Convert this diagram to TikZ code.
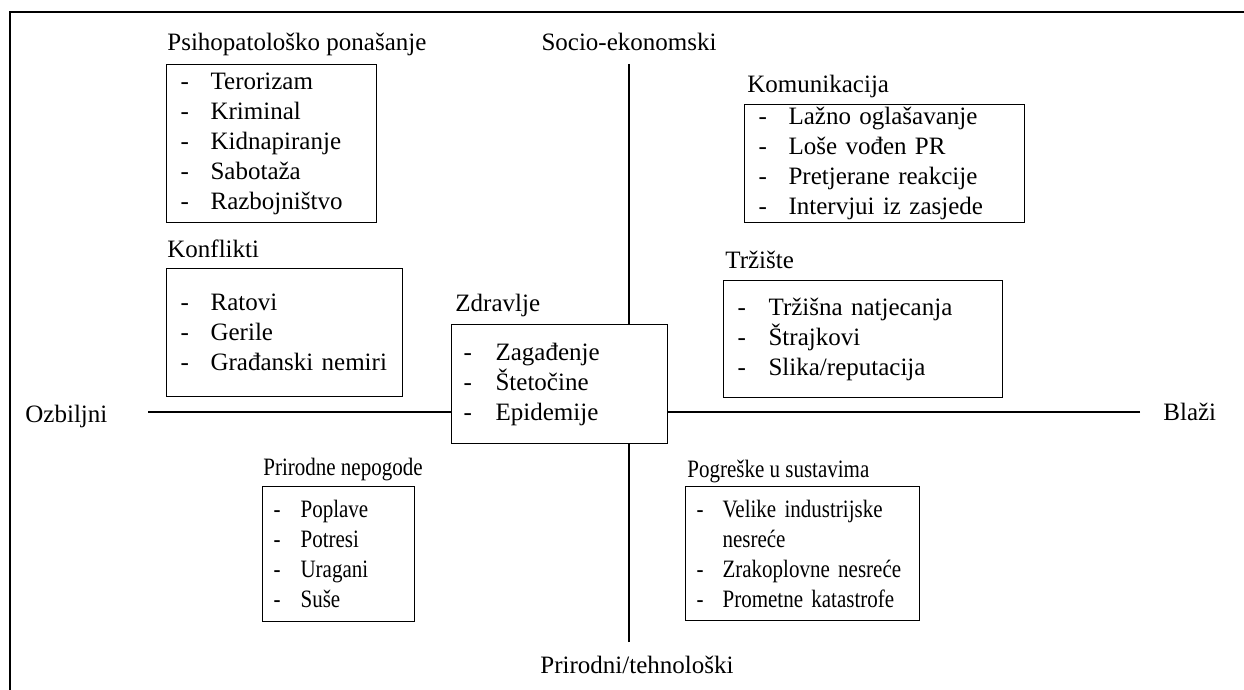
\documentclass[tikz,border=0pt]{standalone}
\usepackage{fontspec}
\setmainfont{Liberation Serif}
\newfontfamily\narrowfont[FakeStretch=0.84]{Liberation Serif}
\usetikzlibrary{positioning}

% one list entry: dash, then the text in its own column
\newcommand{\itm}[2][15pt]{\mbox{\makebox[#1][l]{-}#2}}

\begin{document}
\begin{tikzpicture}[x=0.5pt, y=-0.5pt,
    every node/.style={font=\fontsize{12.5}{15}\selectfont},
    catbox/.style={draw, line width=0.6pt, fill=white, anchor=north west,
      align=left, inner ysep=1pt},
    cattitle/.style={anchor=base west, inner sep=0pt},
    narrow/.style={font=\fontsize{12.5}{15}\narrowfont},
    axislabel/.style={inner sep=0pt},
    axis/.style={line width=1.4pt}]
  \useasboundingbox (0,0) rectangle (1244,690);
  % frame
  \draw [line width=1pt] (10,690) -- (10,12) -- (1244,12);

  % middle box first, the axes stop at it
  \node [catbox, inner xsep=6pt, text width=96pt, minimum height=59.5pt]
    (zdrav) at (451,324) {\itm[16pt]{Zagađenje}\\ \itm[16pt]{Štetočine}\\
    \itm[16pt]{Epidemije}};
  \node [cattitle] (zdravT) at (455,312) {Zdravlje};

  \coordinate (vtop) at (629,64);
  \coordinate (vbot) at (629,642);
  \coordinate (hleft) at (148,412);
  \coordinate (hright) at (1140,412);
  \draw [axis] (vtop) -- (vtop |- zdrav.north);
  \draw [axis] (vbot) -- (vbot |- zdrav.south);
  \draw [axis] (hleft) -- (hleft -| zdrav.west);
  \draw [axis] (hright) -- (hright -| zdrav.east);

  \node [axislabel, anchor=base] (socio) at (629,51) {Socio-ekonomski};
  \node [axislabel, anchor=base] (prirteh) at (637,673) {Prirodni/tehnološki};
  \node [axislabel, anchor=base west] (ozb) at (25,422) {Ozbiljni};
  \node [axislabel, anchor=base west] (blazi) at (1163,420) {Blaži};

  % upper left
  \node [catbox, inner xsep=7pt, text width=91pt, minimum height=79pt]
    (psih) at (166,64) {\itm{Terorizam}\\ \itm{Kriminal}\\ \itm{Kidnapiranje}\\
    \itm{Sabotaža}\\ \itm{Razbojništvo}};
  \node [cattitle] (psihT) at (167,51) {Psihopatološko ponašanje};

  \node [catbox, inner xsep=7pt, text width=104pt, minimum height=64pt]
    (konf) at (166,268) {\itm{Ratovi}\\ \itm{Gerile}\\ \itm{Građanski nemiri}};
  \node [cattitle] (konfT) at (167,257) {Konflikti};

  % upper right
  \node [catbox, inner xsep=7pt, text width=126pt, minimum height=59pt]
    (komun) at (744,104) {\itm{Lažno oglašavanje}\\ \itm{Loše vođen PR}\\
    \itm{Pretjerane reakcije}\\ \itm{Intervjui iz zasjede}};
  \node [cattitle] (komunT) at (747,93) {Komunikacija};

  \node [catbox, inner xsep=7pt, text width=125.5pt, minimum height=58.5pt]
    (trz) at (723,280) {\itm[15.5pt]{Tržišna natjecanja}\\ \itm[15.5pt]{Štrajkovi}\\
    \itm[15.5pt]{Slika/reputacija}};
  \node [cattitle] (trzT) at (725,269) {Tržište};

  % lower half, narrower type
  \node [catbox, narrow, inner xsep=5.5pt, text width=65pt, minimum height=67.5pt]
    (prir) at (262,486) {\itm[13.5pt]{Poplave}\\ \itm[13.5pt]{Potresi}\\
    \itm[13.5pt]{Uragani}\\ \itm[13.5pt]{Suše}};
  \node [cattitle, narrow] (prirT) at (263,475) {Prirodne nepogode};

  \node [catbox, narrow, inner xsep=5.5pt, text width=106pt, minimum height=67pt]
    (pogr) at (685,486) {\itm[13pt]{Velike industrijske}\\ \mbox{\makebox[13pt]{}nesreće}\\
    \itm[13pt]{Zrakoplovne nesreće}\\ \itm[13pt]{Prometne katastrofe}};
  \node [cattitle, narrow] (pogrT) at (687,477) {Pogreške u sustavima};
\end{tikzpicture}
\end{document}
